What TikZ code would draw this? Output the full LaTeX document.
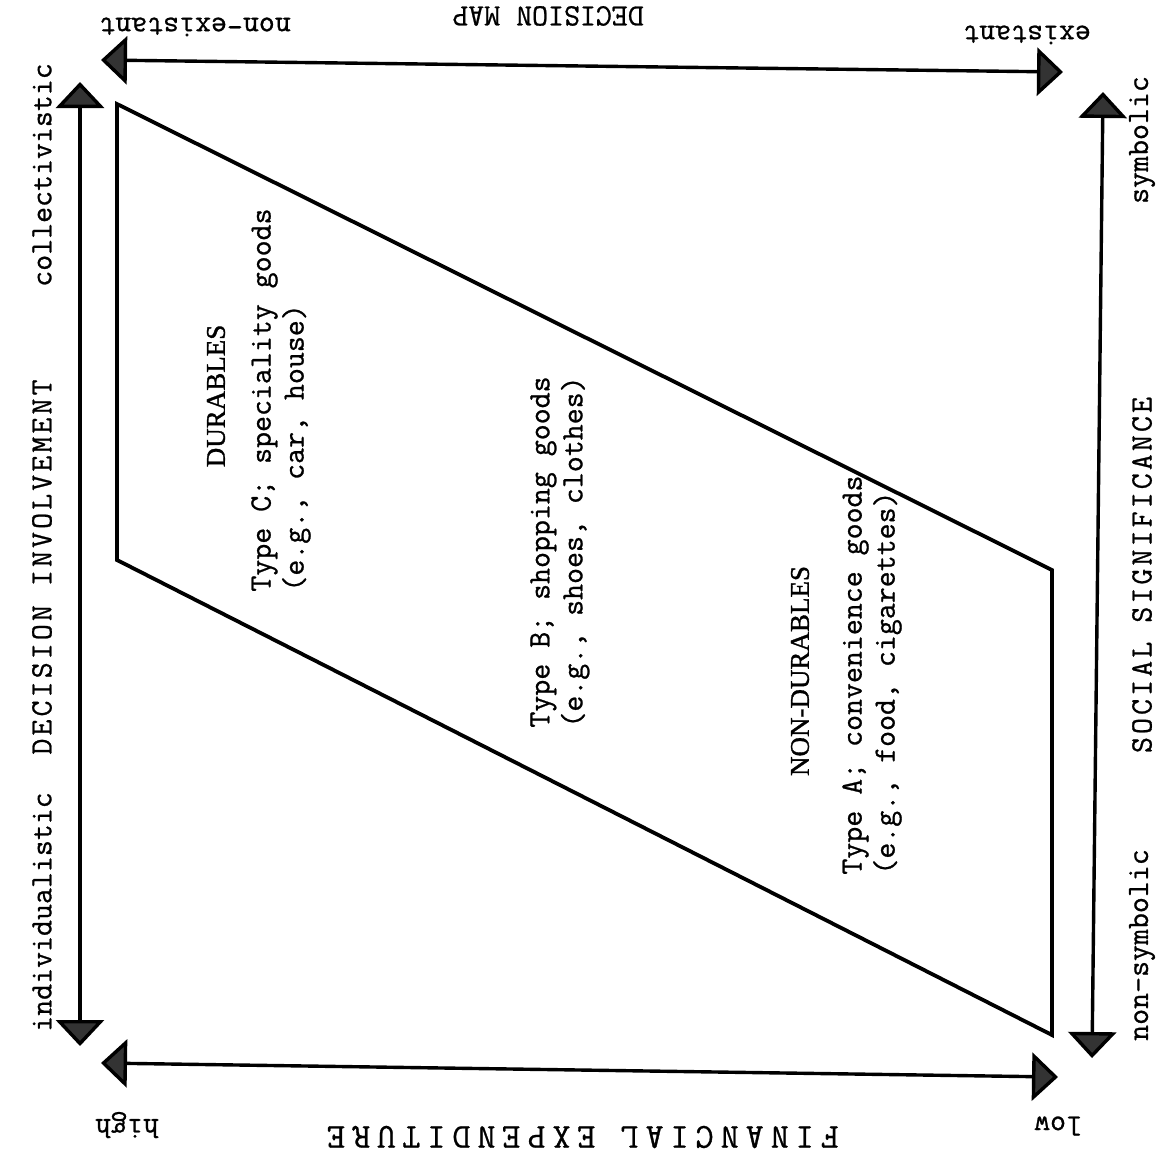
\documentclass[tikz,border=0pt]{standalone}
\usepackage{fontspec}
\setmonofont[FakeBold=0.8]{Latin Modern Mono}
\newfontfamily\classfont[FakeBold=1.2]{Liberation Serif}
\usetikzlibrary{arrows.meta}

\begin{document}
\begin{tikzpicture}[
    x=0.5pt, y=-0.5pt,
    axis/.style={{Triangle[length=13pt, width=24pt, fill=black!80]}-{Triangle[length=13pt, width=24pt, fill=black!80]}, line width=1.7pt},
    field/.style={line width=1.9pt, line join=miter},
    pole/.style={inner sep=0pt, font=\ttfamily\fontsize{15.5}{16.5}\selectfont},
    title/.style={inner sep=0pt, font=\ttfamily\fontsize{15.5}{16.5}\selectfont\addfontfeature{LetterSpace=10}},
    widetitle/.style={inner sep=0pt, font=\ttfamily\fontsize{17.5}{18.5}\selectfont\addfontfeature{LetterSpace=20}},
    goods/.style={rotate=90, anchor=west, align=left, inner sep=0pt, font=\ttfamily\fontsize{15.5}{16.5}\selectfont},
    class/.style={rotate=90, inner sep=0pt, font=\classfont\fontsize{13.5}{15}\selectfont}
]
\useasboundingbox (0,0) rectangle (1176,1162);

% axis end points
\coordinate (topL) at (101,60);
\coordinate (topR) at (1063,72);
\coordinate (botL) at (101,1063);
\coordinate (botR) at (1058,1077);
\coordinate (lefT) at (80,82);
\coordinate (lefB) at (80,1046);
\coordinate (rigT) at (1103,92);
\coordinate (rigB) at (1092,1058);

\draw[axis] (topL) -- (topR);
\draw[axis] (botL) -- (botR);
\draw[axis] (lefB) -- (lefT);
\draw[axis] (rigB) -- (rigT);

% product field
\coordinate (p1) at (117,104);
\coordinate (p2) at (1052,570);
\coordinate (p3) at (1052,1035);
\coordinate (p4) at (117,560);
\draw[field] (p1) -- (p2) -- (p3) -- (p4) -- cycle;

% top: decision map
\node[pole, rotate=180] (nonex) at (195,27) {non-existant};
\node[pole, rotate=180] (map) at (548,16) {DECISION MAP};
\node[pole, rotate=180] (exist) at (1027,35) {existant};

% bottom: financial expenditure
\node[pole, rotate=180] (high) at (127,1125) {high};
\node[widetitle, rotate=180] (money) at (583,1137) {FINANCIAL EXPENDITURE};
\node[pole, rotate=180] (low) at (1058,1126) {low};

% left: decision involvement
\node[pole, rotate=90] (collect) at (42,175) {collectivistic};
\node[title, rotate=90] (involve) at (42,567) {DECISION INVOLVEMENT};
\node[pole, rotate=90] (indiv) at (42,912) {individualistic};

% right: social significance
\node[pole, rotate=90] (symb) at (1142,140) {symbolic};
\node[title, rotate=90] (social) at (1142,575) {SOCIAL SIGNIFICANCE};
\node[pole, rotate=90] (nonsymb) at (1142,945) {non-symbolic};

% product types
\node[class] (durable) at (216,396) {DURABLES};
\node[goods] (typeC) at (281,592) {Type C; speciality goods\\(e.g., car, house)};
\node[goods] (typeB) at (560,728) {Type B; shopping goods\\(e.g., shoes, clothes)};
\node[class] (nondurable) at (800,671) {NON-DURABLES};
\node[goods] (typeA) at (872,875) {Type A; convenience goods\\(e.g., food, cigarettes)};

\end{tikzpicture}
\end{document}
